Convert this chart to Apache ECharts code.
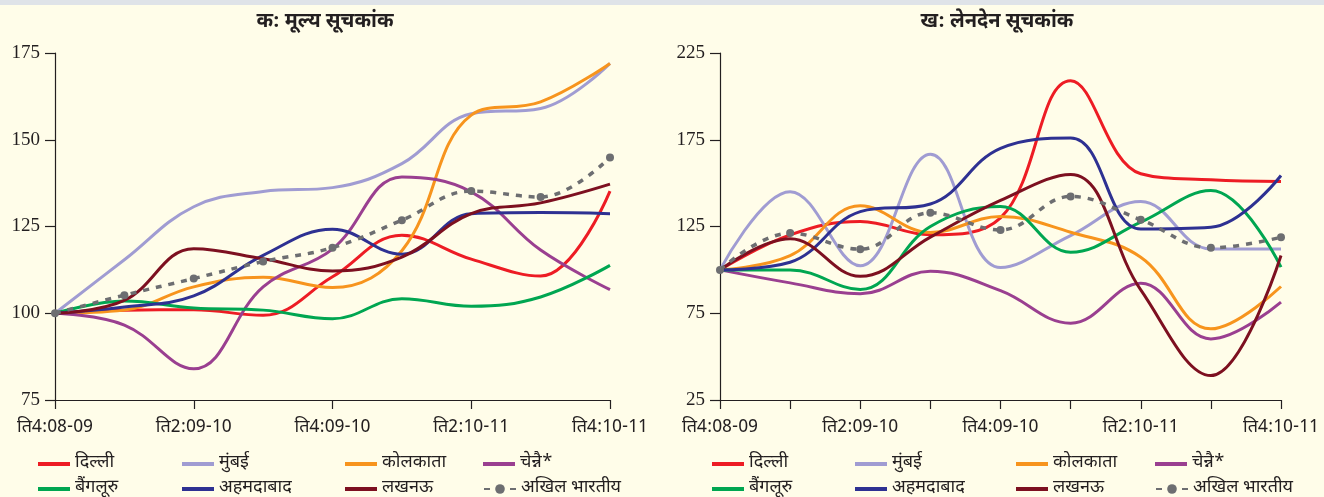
<!DOCTYPE html>
<html>
<head>
<meta charset="utf-8">
<script src="https://cdn.jsdelivr.net/npm/echarts@6/dist/echarts.min.js"></script>
<style>
html,body{margin:0;padding:0;background:#fffde9;}
#top{position:absolute;left:0;top:0;width:1324px;height:5px;background:#dfe3e8;}
#c{position:absolute;left:0;top:0;width:1324px;height:497px;}
</style>
</head>
<body>
<div id="c"></div>
<div id="top"></div>
<script>
const categories = ['ति4:08-09','ति1:09-10','ति2:09-10','ति3:09-10','ति4:09-10','ति1:10-11','ति2:10-11','ति3:10-11','ति4:10-11'];
const seriesNames = ['दिल्ली','मुंबई','कोलकाता','चेन्नै*','बैंगलूरु','अहमदाबाद','लखनऊ','अखिल भारतीय'];
const titleA = 'क: मूल्य सूचकांक';
const titleB = 'ख: लेनदेन सूचकांक';

// Panel A: price index
const priceDelhi     = [100, 100.9, 101.0, 99.4, 110.5, 122.5, 115.6, 110.7, 135.2];
const priceMumbai    = [100, 115.4, 130.7, 135.1, 136.2, 143.1, 157.5, 159.0, 172.0];
const priceKolkata   = [100, 100.9, 107.6, 110.4, 107.4, 118.0, 157.1, 160.9, 172.0];
const priceChennai   = [100, 96.6, 84.0, 107.6, 118.5, 139.3, 135.0, 118.2, 106.8];
const priceBengaluru = [100, 103.5, 101.5, 100.9, 98.4, 104.2, 102.0, 104.7, 113.8];
const priceAhmedabad = [100, 101.8, 105.0, 116.7, 124.2, 117.0, 128.7, 129.0, 128.7];
const priceLucknow   = [100, 103.7, 118.6, 115.7, 112.2, 116.2, 128.7, 131.8, 137.2];
const priceAllIndia  = [100, 105.2, 110.0, 114.9, 118.9, 126.8, 135.2, 133.5, 144.9];

// Panel B: transaction index
const txnDelhi     = [100, 120.2, 127.9, 120.2, 130.0, 209.0, 155.4, 151.9, 150.9];
const txnMumbai    = [100, 145.1, 102.4, 166.7, 101.3, 119.8, 139.4, 112.1, 112.1];
const txnKolkata   = [100, 108.2, 136.9, 121.6, 130.8, 121.7, 107.3, 66.0, 90.4];
const txnChennai   = [100, 92.5, 86.2, 99.2, 88.0, 69.3, 92.3, 60.2, 81.4];
const txnBengaluru = [100, 100.0, 88.7, 125.0, 136.5, 110.2, 127.5, 145.7, 101.6];
const txnAhmedabad = [100, 104.4, 133.6, 138.0, 170.0, 176.0, 123.6, 124.6, 154.4];
const txnLucknow   = [100, 117.9, 96.3, 118.9, 140.0, 155.0, 88.5, 39.1, 108.3];
const txnAllIndia  = [100, 121.2, 111.9, 132.9, 123.0, 142.3, 128.9, 112.7, 118.8];

const yTicksA = [75, 100, 125, 150, 175];
const yTicksB = [25, 75, 125, 175, 225];

const colors = ['#ed1c24','#a09cd2','#f7941d','#9a3f90','#00a651','#2e3192','#7d1020','#6d6e71'];
const priceData = [priceDelhi, priceMumbai, priceKolkata, priceChennai, priceBengaluru, priceAhmedabad, priceLucknow, priceAllIndia];
const txnData = [txnDelhi, txnMumbai, txnKolkata, txnChennai, txnBengaluru, txnAhmedabad, txnLucknow, txnAllIndia];

const DEV = "'Noto Sans Devanagari','Lohit Devanagari','Noto Serif Devanagari','Liberation Serif',serif";
const NUM = "'Liberation Serif',serif";
const INK = '#231f20';

function makeSeries(dataSets, gi) {
  return dataSets.map((d, i) => {
    const isAll = i === 7;
    return {
      name: seriesNames[i], type: 'line', xAxisIndex: gi, yAxisIndex: gi,
      data: d, smooth: 0.4,
      showSymbol: isAll, symbol: isAll ? 'circle' : 'none', symbolSize: 8,
      itemStyle: { color: colors[i] },
      lineStyle: isAll ? { color: colors[i], width: 3.5, type: [6, 7] } : { color: colors[i], width: 3 },
      z: isAll ? 3 : 2, silent: true, animation: false
    };
  });
}

function xAxis(gi, tickAll) {
  return {
    type: 'category', gridIndex: gi, data: categories, boundaryGap: false,
    axisLine: { lineStyle: { color: INK, width: 1.2 } },
    axisTick: { show: true, interval: tickAll ? 0 : 1, length: 9, inside: false, lineStyle: { color: INK, width: 1.2 } },
    axisLabel: { interval: 1, color: INK, fontSize: 18, fontFamily: DEV, margin: 20 },
    splitLine: { show: false }
  };
}
function yAxis(gi, ticks) {
  return {
    type: 'value', gridIndex: gi, min: ticks[0], max: ticks[ticks.length - 1],
    interval: ticks[1] - ticks[0],
    axisLine: { show: true, lineStyle: { color: INK, width: 1.2 } },
    axisTick: { show: true, length: 10, lineStyle: { color: INK, width: 1.2 } },
    axisLabel: { color: INK, fontSize: 19, fontFamily: NUM, margin: 15 },
    splitLine: { show: false }
  };
}

function legends(x0, cols) {
  const order = [[0, 0, 0], [1, 1, 0], [2, 2, 0], [3, 3, 0], [4, 0, 1], [5, 1, 1], [6, 2, 1], [7, 3, 1]];
  return order.map(([i, c, r]) => {
    const isAll = i === 7;
    return {
      left: x0 + cols[c], top: r === 0 ? 455 : 480, orient: 'horizontal', padding: 0,
      itemWidth: 32, itemHeight: isAll ? 12 : 4, selectedMode: false,
      icon: isAll ? undefined : 'rect',
      data: [{ name: seriesNames[i] }],
      textStyle: { color: INK, fontSize: 18, fontFamily: DEV }
    };
  });
}

const chart = echarts.init(document.getElementById('c'), null, { renderer: 'canvas' });
chart.setOption({
  backgroundColor: '#fffde9',
  animation: false,
  title: [
    { text: titleA, left: 320, top: 8, textAlign: 'center', textStyle: { fontSize: 20, fontWeight: 'bold', color: INK, fontFamily: DEV } },
    { text: titleB, left: 992, top: 8, textAlign: 'center', textStyle: { fontSize: 20, fontWeight: 'bold', color: INK, fontFamily: DEV } }
  ],
  grid: [
    { left: 55, right: 714, top: 53, bottom: 97, containLabel: false },
    { left: 720, right: 43, top: 53, bottom: 97, containLabel: false }
  ],
  xAxis: [xAxis(0, false), xAxis(1, true)],
  yAxis: [yAxis(0, yTicksA), yAxis(1, yTicksB)],
  legend: legends(38, [0, 144, 307, 445]).concat(legends(712, [0, 143, 304, 443])),
  series: makeSeries(priceData, 0).concat(makeSeries(txnData, 1))
});
</script>
</body>
</html>
